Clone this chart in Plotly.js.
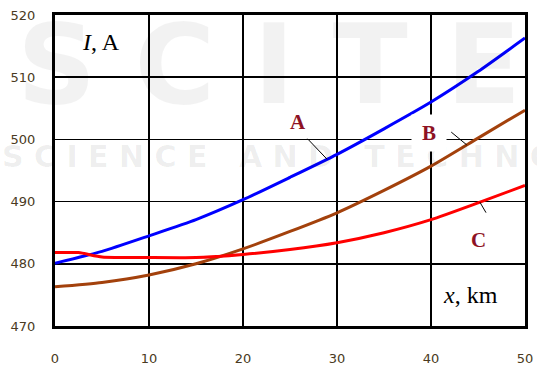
<!DOCTYPE html>
<html>
<head>
<meta charset="utf-8">
<script src="https://cdn.plot.ly/plotly-3.0.1.min.js"></script>
<style>
  html, body { margin: 0; padding: 0; background: #ffffff; }
  #chart { width: 537px; height: 369px; }
</style>
</head>
<body>
<div id="chart"></div>
<script>
// Current I (A) along the line, distance x (km)
const xKm = [0, 5, 10, 15, 20, 25, 30, 35, 40, 45, 50];
const curveA = [480.1, 482.0, 484.5, 487.1, 490.3, 493.9, 497.6, 501.7, 506.0, 510.9, 516.3];
const curveB = [476.3, 477.0, 478.2, 480.0, 482.4, 485.2, 488.2, 491.8, 495.7, 500.2, 504.7];
const xKmC = [0, 2.5, 5, 10, 15, 20, 25, 30, 35, 40, 45, 50];
const curveC = [481.8, 481.8, 481.1, 481.0, 481.0, 481.5, 482.3, 483.4, 485.0, 487.1, 489.8, 492.6];

const seriesNames = ['A', 'B', 'C'];
const seriesColors = ['#0000ff', '#a3410c', '#ff0000'];
const xTicks = [0, 10, 20, 30, 40, 50];
const yTicks = [470, 480, 490, 500, 510, 520];

// linear interpolation on a series, used to hook label leaders onto curves
function yAt(xs, ys, x) {
  for (let i = 0; i < xs.length - 1; i++) {
    if (x >= xs[i] && x <= xs[i + 1]) {
      const t = (x - xs[i]) / (xs[i + 1] - xs[i]);
      return ys[i] + t * (ys[i + 1] - ys[i]);
    }
  }
  return ys[ys.length - 1];
}

const traces = [
  { x: xKm, y: curveA, name: seriesNames[0] },
  { x: xKm, y: curveB, name: seriesNames[1] },
  { x: xKmC, y: curveC, name: seriesNames[2] }
].map((t, i) => Object.assign(t, {
  type: 'scatter',
  mode: 'lines',
  line: { color: seriesColors[i], width: 3, shape: 'spline', smoothing: 0.6 },
  hoverinfo: 'skip'
}));

const labelFont = { family: 'Liberation Serif, serif', size: 21, color: '#8e1224' };
const axisTitleFont = { family: 'Liberation Serif, serif', size: 24, color: '#000000' };

function leader(xs, ys, x, ax, ay) {
  return {
    x: x, y: yAt(xs, ys, x), xref: 'x', yref: 'y', text: '',
    showarrow: true, arrowhead: 0, arrowwidth: 1, arrowcolor: '#000000',
    ax: ax, ay: ay, standoff: 0, startstandoff: 0
  };
}

function paperText(x, y, text, font) {
  return { xref: 'paper', yref: 'paper', x: x, y: y, xanchor: 'center', yanchor: 'middle',
           text: text, showarrow: false, font: font };
}

// spread letters out for the wide watermark lettering
function spaced(word) {
  return word.split('').join('&nbsp;');
}

const annotations = [
  // faint publisher watermark
  paperText(0.455, 0.839, '<b>S C I T E</b>', { family: 'DejaVu Sans', size: 110, color: 'rgba(0,0,0,0.05)' }),
  Object.assign(paperText(-0.117, 0.545,
    '<b>' + ['SCIENCE', 'AND', 'TECHNOLOGY'].map(spaced).join(' &nbsp; ') + '</b>',
    { family: 'DejaVu Sans', size: 30, color: 'rgba(0,0,0,0.07)' }), { xanchor: 'left' }),

  // axis captions inside the frame
  paperText(0.098, 0.913, '<i>I</i>, A', axisTitleFont),
  paperText(0.885, 0.1, '<i>x</i>, km', axisTitleFont),

  // curve labels
  { x: 25.9, y: 502.8, text: '<b>' + seriesNames[0] + '</b>', showarrow: false, font: labelFont },
  { x: 39.8, y: 501.0, text: '<b>' + seriesNames[1] + '</b>', showarrow: false, font: labelFont,
    bgcolor: '#ffffff', width: 32, height: 34 },
  { x: 45.05, y: 483.8, text: '<b>' + seriesNames[2] + '</b>', showarrow: false, font: labelFont },

  // leaders from labels to curves
  leader(xKm, curveA, 28.94, -21, -22),
  leader(xKm, curveB, 43.8, -17, -14),
  leader(xKmC, curveC, 45.2, 7, 12)
];

const axisCommon = {
  showgrid: true, gridcolor: '#000000', gridwidth: 1.5,
  showline: true, linecolor: '#000000', linewidth: 3, mirror: true,
  zeroline: false, ticks: '',
  tickfont: { family: 'DejaVu Sans, sans-serif', size: 13, color: '#4a3a22' },
  fixedrange: true
};

const layout = {
  width: 537, height: 369,
  margin: { l: 55, r: 12, t: 15, b: 43, pad: 0 },
  paper_bgcolor: '#ffffff', plot_bgcolor: '#ffffff',
  showlegend: false,
  xaxis: Object.assign({}, axisCommon, { range: [0, 50], tickvals: xTicks, ticklabelstandoff: 18 }),
  yaxis: Object.assign({}, axisCommon, { range: [470, 520], tickvals: yTicks, ticklabelstandoff: 14 }),
  annotations: annotations
};

Plotly.newPlot('chart', traces, layout, { staticPlot: true, displayModeBar: false });
</script>
</body>
</html>
